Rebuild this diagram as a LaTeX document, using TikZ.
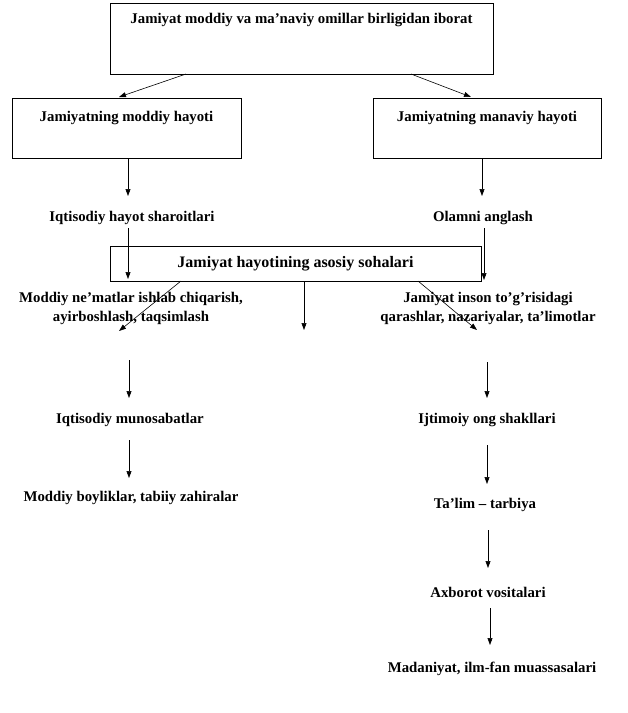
\documentclass[tikz,border=0pt]{standalone}
\usepackage{fontspec}
\setmainfont{Liberation Serif}
\usetikzlibrary{arrows.meta}
\begin{document}
\begin{tikzpicture}[x=1pt,y=-1pt,
  every node/.style={font=\bfseries\fontsize{14.8}{19}\selectfont, inner sep=0pt, align=center},
  txt/.style={yshift=-2pt},
  frame/.style={draw, line width=0.8pt, minimum width=#1},
  arr/.style={line width=0.6pt, -{Triangle[length=7pt,width=5pt]}}]
\useasboundingbox (0,0) rectangle (628,713);

% framed boxes
\node[frame=383pt, minimum height=71pt,
  label={[anchor=center,yshift=-17pt]north:Jamiyat moddiy va ma’naviy omillar birligidan iborat}]
  (top) at (301.5,38.5) {};
\node[frame=229pt, minimum height=60pt,
  label={[anchor=center,yshift=-20pt]north:Jamiyatning moddiy hayoti}]
  (lbox) at (126.5,128) {};
\node[frame=228pt, minimum height=60pt,
  label={[anchor=center,yshift=-20pt]north:Jamiyatning manaviy hayoti}]
  (rbox) at (487,128) {};
\node[frame=371pt, minimum height=35pt, font=\bfseries\fontsize{16}{19}\selectfont]
  (mid) at (295.5,263.5) {Jamiyat hayotining asosiy sohalari};

% plain text items
\node[txt] (iqt) at (132,216) {Iqtisodiy hayot sharoitlari};
\node[txt] (olam) at (483,216) {Olamni anglash};
\node[txt] (mne) at (131,306) {Moddiy ne’matlar ishlab chiqarish,\\ayirboshlash, taqsimlash};
\node[txt] (jin) at (488,306) {Jamiyat inson to’g’risidagi\\qarashlar, nazariyalar, ta’limotlar};
\node[txt] (mun) at (130,418) {Iqtisodiy munosabatlar};
\node[txt] (boy) at (131,496) {Moddiy boyliklar, tabiiy zahiralar};
\node[txt] (ong) at (487,418) {Ijtimoiy ong shakllari};
\node[txt] (talim) at (485,503) {Ta’lim – tarbiya};
\node[txt] (axb) at (488,590) {Axborot vositalari};
\node[txt] (mad) at (492,667) {Madaniyat, ilm-fan muassasalari};

% free arrow ends
\coordinate (t1) at (186,74);
\coordinate (t1e) at (119,97);
\coordinate (t2) at (411,74);
\coordinate (t2e) at (471,97);
\coordinate (a1) at (128,196);
\coordinate (a2) at (482,196);
\coordinate (b1s) at (128,228);
\coordinate (b1e) at (128,279);
\coordinate (b2s) at (484,228);
\coordinate (b2e) at (484,280);
\coordinate (c1s) at (181,281);
\coordinate (c1e) at (119,331);
\coordinate (c2e) at (304,330);
\coordinate (c3s) at (418,281);
\coordinate (c3e) at (477,330);
\coordinate (d1s) at (129,360);
\coordinate (d1e) at (129,398);
\coordinate (d2s) at (129,440);
\coordinate (d2e) at (129,478);
\coordinate (e1s) at (487,362);
\coordinate (e1e) at (487,398);
\coordinate (e2s) at (487,445);
\coordinate (e2e) at (487,484);
\coordinate (e3s) at (488,530);
\coordinate (e3e) at (488,568);
\coordinate (e4s) at (490,608);
\coordinate (e4e) at (490,645);

% connectors
\draw[arr] (t1) -- (t1e);
\draw[arr] (t2) -- (t2e);
\draw[arr] (lbox.south -| a1) -- (a1);
\draw[arr] (rbox.south -| a2) -- (a2);
\draw[arr] (b1s) -- (b1e);
\draw[arr] (b2s) -- (b2e);
\draw[arr] (c1s) -- (c1e);
\draw[arr] (mid.south -| c2e) -- (c2e);
\draw[arr] (c3s) -- (c3e);
\draw[arr] (d1s) -- (d1e);
\draw[arr] (d2s) -- (d2e);
\draw[arr] (e1s) -- (e1e);
\draw[arr] (e2s) -- (e2e);
\draw[arr] (e3s) -- (e3e);
\draw[arr] (e4s) -- (e4e);
\end{tikzpicture}
\end{document}
